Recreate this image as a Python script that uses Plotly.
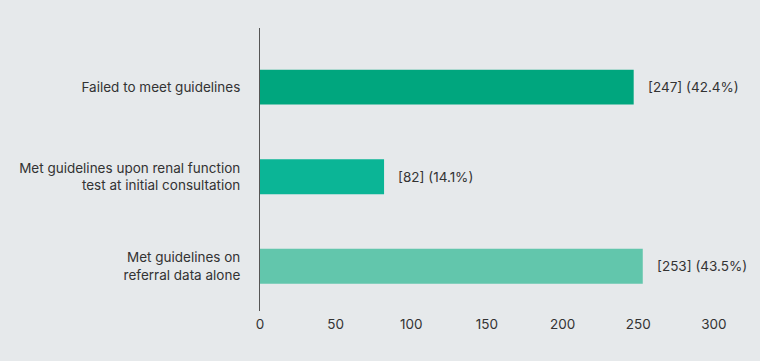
import plotly.graph_objects as go

categories = ["Met guidelines on<br>referral data alone",
              "Met guidelines upon renal function<br>test at initial consultation",
              "Failed to meet guidelines"]
counts = [253, 82, 247]
percents = [43.5, 14.1, 42.4]
colors = ["#62C6AC", "#0BB596", "#00A67E"]
x_ticks = [0, 50, 100, 150, 200, 250, 300]

bg = "#E6E9EB"
fig = go.Figure()
fig.add_trace(go.Bar(
    x=counts, y=categories, orientation="h",
    marker=dict(color=colors, line=dict(width=0)),
    width=0.39, hoverinfo="skip",
))
for c, n, p in zip(categories, counts, percents):
    fig.add_annotation(x=n, y=c, text=f"[{n}] ({p}%)", showarrow=False,
                       xanchor="left", xshift=12,
                       font=dict(size=13.5, color="#333333"))

fig.update_layout(
    width=760, height=361,
    margin=dict(l=260, r=31, t=28, b=50),
    paper_bgcolor=bg, plot_bgcolor=bg,
    font=dict(family="Inter, Roboto, sans-serif", size=13.5, color="#333333"),
    showlegend=False,
    xaxis=dict(range=[0, 310], tickvals=x_ticks, showgrid=False, zeroline=False,
               showline=False, ticks="", ticklabelstandoff=3,
               tickfont=dict(size=13.5, color="#333333")),
    yaxis=dict(range=[-0.5, 2.66], showgrid=False, zeroline=False,
               showline=True, linecolor="#555555", linewidth=1,
               ticks="", ticklabelstandoff=16,
               tickfont=dict(size=13.5, color="#333333")),
    bargap=0.6,
)
fig.write_html("out.html", config={"displayModeBar": False},
               post_script="document.body.style.margin='0';")
